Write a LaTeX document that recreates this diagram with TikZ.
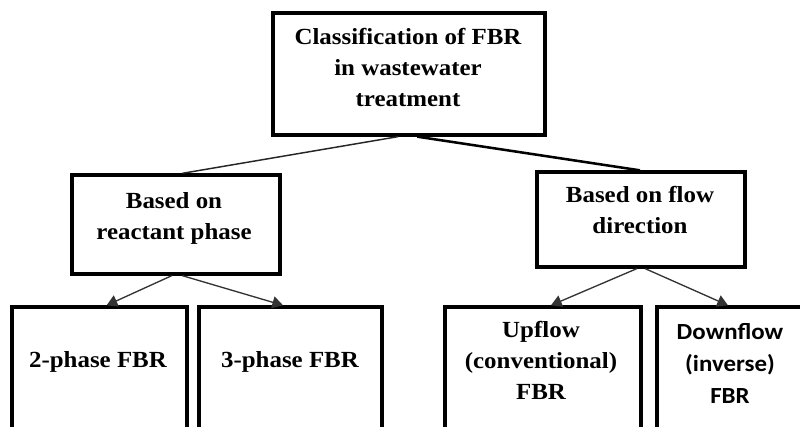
\documentclass[tikz,border=0pt]{standalone}
\usepackage{fontspec}
\setmainfont{Liberation Serif}[FakeStretch=1.08]
\newfontfamily\calibfont{Carlito}[FakeStretch=1.08]
\usetikzlibrary{arrows.meta,calc}
\begin{document}
\begin{tikzpicture}[x=0.75pt,y=-0.75pt,
  box/.style={draw=black, line width=2.5pt, inner sep=0pt},
  txt/.style={align=center, inner sep=0pt, font=\fontsize{17.3}{23.5}\selectfont\bfseries},
  thinline/.style={draw=black!85, line width=1.1pt},
  thickline/.style={draw=black, line width=1.9pt},
  arrowline/.style={draw=black!80, line width=1pt, -{Triangle[length=8pt,width=9pt]}}]
\useasboundingbox (0,0) rectangle (800,427);
\clip (0,0) rectangle (800,427);
% boxes
\node[box, minimum width={272*0.75pt}, minimum height={122*0.75pt}] (top) at (409,74) {};
\node[box, minimum width={208*0.75pt}, minimum height={99*0.75pt}] (lm) at (176,224.5) {};
\node[box, minimum width={208*0.75pt}, minimum height={95*0.75pt}] (rm) at (641,219.5) {};
\node[box, minimum width={175*0.75pt}, minimum height={153*0.75pt}] (b1) at (99.5,383.5) {};
\node[box, minimum width={183*0.75pt}, minimum height={153*0.75pt}] (b2) at (290.5,383.5) {};
\node[box, minimum width={196*0.75pt}, minimum height={153*0.75pt}] (b3) at (543,383.5) {};
\node[box, minimum width={148*0.75pt}, minimum height={153*0.75pt}] (b4) at (731,383.5) {};
% texts (anchor base = baseline of the last line)
\node[txt, anchor=base] (ttop) at (408,107) {Classification of FBR\\in wastewater\\treatment};
\node[txt, anchor=base] (tlm) at (174,240) {Based on\\reactant phase};
\node[txt, anchor=base] (trm) at (640,234) {Based on flow\\direction};
\node[txt, anchor=base] (tb1) at (98,368) {2-phase FBR};
\node[txt, anchor=base] (tb2) at (290,368) {3-phase FBR};
\node[txt, anchor=base] (tb3) at (541,400) {Upflow\\(conventional)\\FBR};
\node[txt, anchor=base, font=\fontsize{17.3}{24}\selectfont\calibfont\bfseries] (tb4) at (730,404) {Downflow\\(inverse)\\FBR};
% connectors
\draw[thinline] ($(top.south west)!0.46!(top.south east)$) -- ($(lm.north west)!0.53!(lm.north east)$);
\draw[thickline] ($(top.south west)!0.53!(top.south east)$) -- ($(rm.north west)!0.495!(rm.north east)$);
\draw[arrowline] ($(lm.south west)!0.48!(lm.south east)$) -- ($(b1.north west)!0.54!(b1.north east)$);
\draw[arrowline] ($(lm.south west)!0.53!(lm.south east)$) -- ($(b2.north west)!0.46!(b2.north east)$);
\draw[arrowline] ($(rm.south west)!0.48!(rm.south east)$) -- ($(b3.north west)!0.54!(b3.north east)$);
\draw[arrowline] ($(rm.south west)!0.52!(rm.south east)$) -- ($(b4.north west)!0.48!(b4.north east)$);
\end{tikzpicture}
\end{document}
